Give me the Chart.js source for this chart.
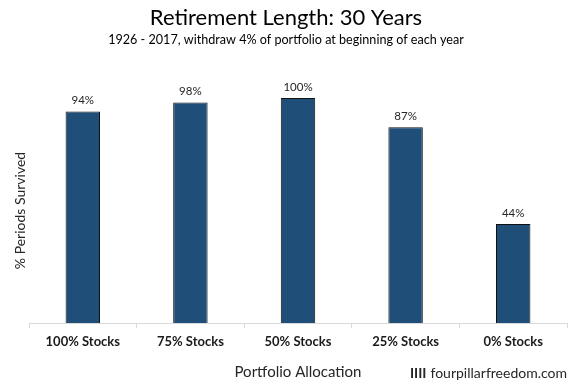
<!DOCTYPE html>
<html>
<head>
<meta charset="utf-8">
<script src="https://cdn.jsdelivr.net/npm/chart.js@4/dist/chart.umd.min.js"></script>
<style>
html,body{margin:0;padding:0;background:#fff;}
#wrap{width:572px;height:382px;position:relative;}
</style>
</head>
<body>
<div id="wrap"><canvas id="c" width="572" height="382"></canvas></div>
<script>
const categories = ["100% Stocks", "75% Stocks", "50% Stocks", "25% Stocks", "0% Stocks"];
const survived = [94, 98, 100, 87, 44];
const titleText = "Retirement Length: 30 Years";
const subtitleText = "1926 - 2017, withdraw 4% of portfolio at beginning of each year";
const yTitle = "% Periods Survived";
const xTitle = "Portfolio Allocation";
const watermarkMark = "IIII";
const watermarkText = "fourpillarfreedom.com";

const FONT = "Lato, 'Open Sans', sans-serif";

const labelPlugin = {
  id: 'barLabels',
  afterDatasetsDraw(chart) {
    const ctx = chart.ctx;
    const meta = chart.getDatasetMeta(0);
    ctx.save();
    ctx.font = "11.5px " + FONT;
    ctx.fillStyle = "#262626";
    ctx.textAlign = "center";
    ctx.textBaseline = "middle";
    meta.data.forEach((el, i) => {
      ctx.fillText(survived[i] + "%", el.x, el.y - 11);
    });
    ctx.restore();
  }
};

const textPlugin = {
  id: 'texts',
  afterDraw(chart) {
    const ctx = chart.ctx;
    ctx.save();
    ctx.textBaseline = "middle";
    ctx.textAlign = "center";
    ctx.fillStyle = "#000000";
    const cx = chart.width / 2;
    ctx.font = "22px " + FONT;
    ctx.fillText(titleText, cx, 18);
    ctx.font = "12.6px " + FONT;
    ctx.fillText(subtitleText, cx, 39.5);

    ctx.textAlign = "right";
    ctx.fillStyle = "#262626";
    ctx.font = "14px " + FONT;
    const right = chart.chartArea.right;
    const y = 373;
    ctx.fillText(watermarkText, right, y);
    const w = ctx.measureText(watermarkText).width;
    ctx.font = "bold 14px " + FONT;
    ctx.fillText(watermarkMark, right - w - 4, y);
    ctx.restore();
  }
};

new Chart(document.getElementById('c'), {
  type: 'bar',
  data: {
    labels: categories,
    datasets: [{
      data: survived,
      backgroundColor: '#1f4e79',
      borderColor: '#111111',
      borderWidth: 1,
      borderSkipped: 'bottom',
      categoryPercentage: 1.0,
      barPercentage: 0.32
    }]
  },
  options: {
    responsive: false,
    animation: false,
    layout: { padding: { left: 0, right: 5, top: 98, bottom: 0 } },
    plugins: {
      legend: { display: false },
      tooltip: { enabled: false },
      title: { display: false },
      subtitle: { display: false }
    },
    scales: {
      x: {
        grid: {
          display: true,
          drawOnChartArea: false,
          drawTicks: true,
          tickLength: 5,
          color: '#d9d9d9',
          offset: true
        },
        border: { display: true, color: '#d9d9d9', width: 1 },
        ticks: {
          color: '#1a1a1a',
          font: { family: FONT, size: 13, weight: 'bold' },
          padding: 6,
          maxRotation: 0
        },
        title: {
          display: true,
          text: xTitle,
          color: '#262626',
          font: { family: FONT, size: 15 },
          padding: { top: 0, bottom: 1 }
        },
        afterFit(s) { s.height = 59; }
      },
      y: {
        min: 0,
        max: 100,
        grid: { display: false },
        border: { display: false },
        ticks: { display: false },
        title: {
          display: true,
          text: yTitle,
          color: '#262626',
          font: { family: FONT, size: 14 },
          padding: { top: 12, bottom: 0 }
        },
        afterFit(s) { s.width = 29; }
      }
    }
  },
  plugins: [labelPlugin, textPlugin]
});
</script>
</body>
</html>
